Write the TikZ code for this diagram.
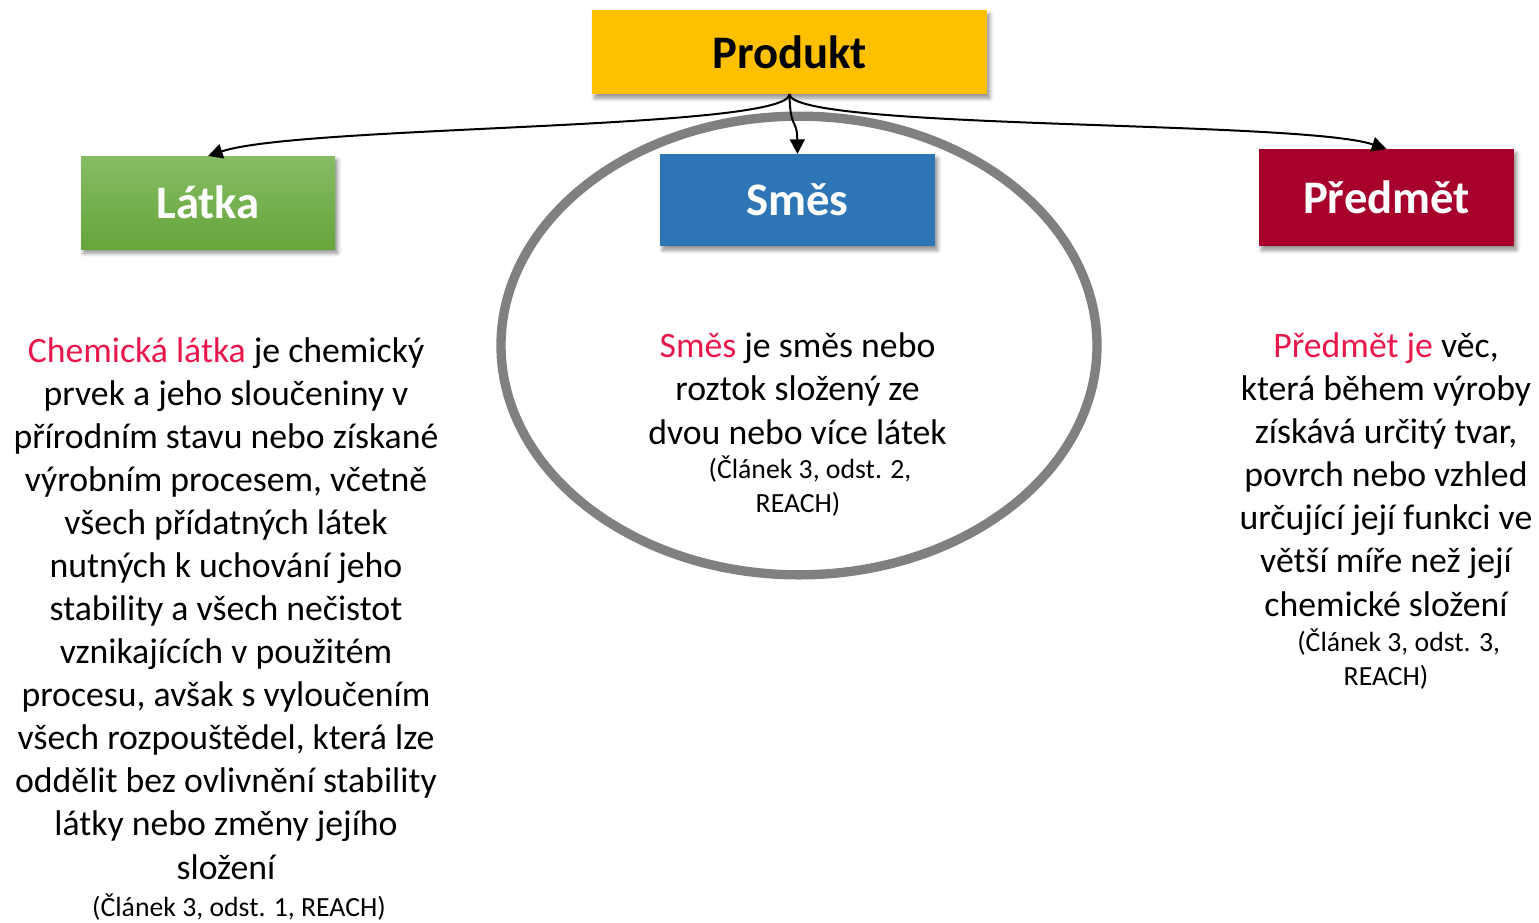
\documentclass[tikz,border=0pt]{standalone}
\usepackage{fontspec}
\setmainfont{Carlito}
\usetikzlibrary{arrows.meta,shadows.blur}
\definecolor{prodY}{HTML}{FFC000}
\definecolor{latTop}{HTML}{86BD64}
\definecolor{latBot}{HTML}{65A53B}
\definecolor{smesB}{HTML}{2E75B6}
\definecolor{predR}{HTML}{A8002D}
\definecolor{redT}{HTML}{E8174B}
\definecolor{ringG}{HTML}{808080}
\begin{document}
\begin{tikzpicture}[x=0.75pt,y=-0.75pt,
  box/.style={inner sep=0pt,outer sep=0pt,font=\fontsize{35pt}{42pt}\selectfont\bfseries,
    blur shadow={shadow xshift=2pt,shadow yshift=-3pt,shadow opacity=45,shadow blur radius=3pt}},
  arr/.style={line width=1.5pt,-{Triangle[length=11pt,width=11pt]}},
  body/.style={align=center,anchor=base,inner sep=0pt,font=\fontsize{26.8pt}{32.3pt}\selectfont},
  cite/.style={align=center,anchor=base,inner sep=0pt,font=\fontsize{20.8pt}{24.8pt}\selectfont}]
\useasboundingbox (0,0) rectangle (1539,922);
% ring
\draw[ringG,line width=7pt] (799,345.5) ellipse [x radius=223.5pt,y radius=172pt];
% boxes
\node[box,fill=prodY,text=black,minimum width=296.25pt,minimum height=63pt] (prod) at (789.5,52) {Produkt};
\node[box,top color=latTop,bottom color=latBot,text=white,minimum width=190.5pt,minimum height=69.75pt] (lat) at (208,202.5) {Látka};
\node[box,fill=smesB,text=white,minimum width=206.25pt,minimum height=69pt] (smes) at (797.5,200) {Směs};
\node[box,fill=predR,text=white,minimum width=191.25pt,minimum height=72.75pt] (pred) at (1386.5,197.5) {Předmět};
% connectors
\draw[arr] (prod.south) .. controls (790,130) and (300,125) .. (lat.north);
\draw[arr] (prod.south) .. controls (790,130) and (797,118) .. (smes.north);
\draw[arr] (prod.south) .. controls (790,130) and (1300,120) .. (pred.north);
% texts (base anchor = baseline of last line)
\node[body] (tlat) at (226,879) {\textcolor{redT}{Chemická látka} je chemický\\
prvek a jeho sloučeniny v\\
přírodním stavu nebo získané\\
výrobním procesem, včetně\\
všech přídatných látek\\
nutných k uchování jeho\\
stability a všech nečistot\\
vznikajících v použitém\\
procesu, avšak s vyloučením\\
všech rozpouštědel, která lze\\
oddělit bez ovlivnění stability\\
látky nebo změny jejího\\
složení};
\node[cite] (clat) at (239,916) {(Článek 3, odst. 1, REACH)};
\node[body] (tsmes) at (797.5,444) {\textcolor{redT}{Směs} je směs nebo\\
roztok složený ze\\
dvou nebo více látek};
\node[cite] (csmes) at (798,512) {\hspace*{18pt}(Článek 3, odst. 2,\\REACH)};
\node[body] (tpred) at (1386,616) {\textcolor{redT}{Předmět je} věc,\\
která během výroby\\
získává určitý tvar,\\
povrch nebo vzhled\\
určující její funkci ve\\
větší míře než její\\
chemické složení};
\node[cite] (cpred) at (1386,685) {\hspace*{19pt}(Článek 3, odst. 3,\\REACH)};
\end{tikzpicture}
\end{document}
